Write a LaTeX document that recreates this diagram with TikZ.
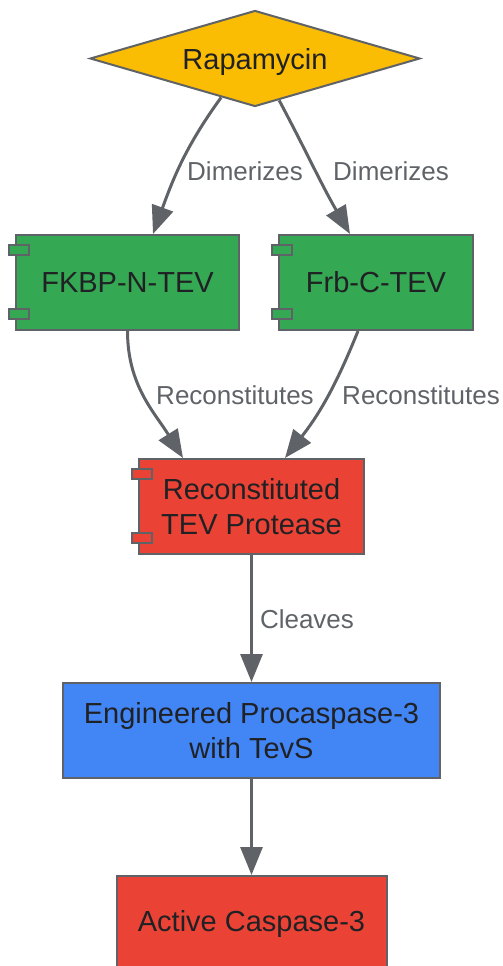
\documentclass[tikz,border=0pt]{standalone}
\usepackage{fontspec}
\setmainfont{Liberation Sans}
\usetikzlibrary{arrows.meta,positioning,shapes.geometric}

\definecolor{edgegrey}{HTML}{5F6368}
\definecolor{ink}{HTML}{202124}
\definecolor{gold}{HTML}{FBBC04}
\definecolor{leaf}{HTML}{34A853}
\definecolor{tomato}{HTML}{EA4335}
\definecolor{sky}{HTML}{4285F4}

\begin{document}
\begin{tikzpicture}[
		x=1pt, y=1pt,
		box/.style={draw=edgegrey, line width=2pt, minimum height=95pt, inner sep=0pt, align=center, text=ink, font=\fontsize{29}{35}\selectfont},
		tab/.style={draw=edgegrey, line width=2pt},
		link/.style={draw=edgegrey, line width=3pt, -{Triangle[length=28pt, width=22pt]}},
		lbl/.style={text=edgegrey, font=\fontsize{26}{31}\selectfont},
	]
		\useasboundingbox (0,0) rectangle (503,-966);
		
		\node[shape=diamond, aspect=3.46, draw=edgegrey, fill=gold, line width=2pt, minimum width=330pt, minimum height=96pt, inner sep=0pt, text depth=0pt, text=ink, font=\fontsize{29}{35}\selectfont] (rapa) at (255,-58.5) {Rapamycin};
		\node[box, fill=leaf, minimum width=223pt] (fkbp) at (127.5,-282.5) {FKBP-N-TEV};
		\node[box, fill=leaf, minimum width=194pt, right=38pt of fkbp] (frb) {Frb-C-TEV};
		\node[box, fill=tomato, minimum width=225pt] (tev) at (251.5,-506.5) {Reconstituted\\TEV Protease};
		\node[box, fill=sky, minimum width=377pt, below=127pt of tev] (eng) {Engineered Procaspase-3\\with TevS};
		\node[box, fill=tomato, minimum width=270pt, below=96pt of eng] (act) {Active Caspase-3};
		
		% component tabs
		\foreach \n/\c in {fkbp/leaf, frb/leaf, tev/tomato} {
			\draw[tab, fill=\c] ([xshift=-6pt, yshift=-11pt]\n.north west) rectangle ++(20,-10);
			\draw[tab, fill=\c] ([xshift=-6pt, yshift=12pt]\n.south west) rectangle ++(20,10);
		}
		
		\draw[link] (rapa.-131) to[out=-126, in=70] ([xshift=25.5pt]fkbp.north);
		\draw[link] (rapa.-60) to[out=-62, in=120] ([xshift=-26pt]frb.north);
		\draw[link] (fkbp.south) to[out=-90, in=122] ([xshift=-68.5pt]tev.north);
		\draw[link] ([xshift=-18pt]frb.south) to[out=-112, in=52] ([xshift=33.5pt]tev.north);
		\draw[link] (tev) -- (eng);
		\draw[link] (eng) -- (act);
		
		\node[lbl] (dimL) at (245,-171) {Dimerizes};
		\node[lbl] (dimR) at (391,-171) {Dimerizes};
		\node[lbl] (recL) at (235,-395) {Reconstitutes};
		\node[lbl] (recR) at (421,-395) {Reconstitutes};
		\node[lbl] (clv) at (307,-619) {Cleaves};
	\end{tikzpicture}
\end{document}
